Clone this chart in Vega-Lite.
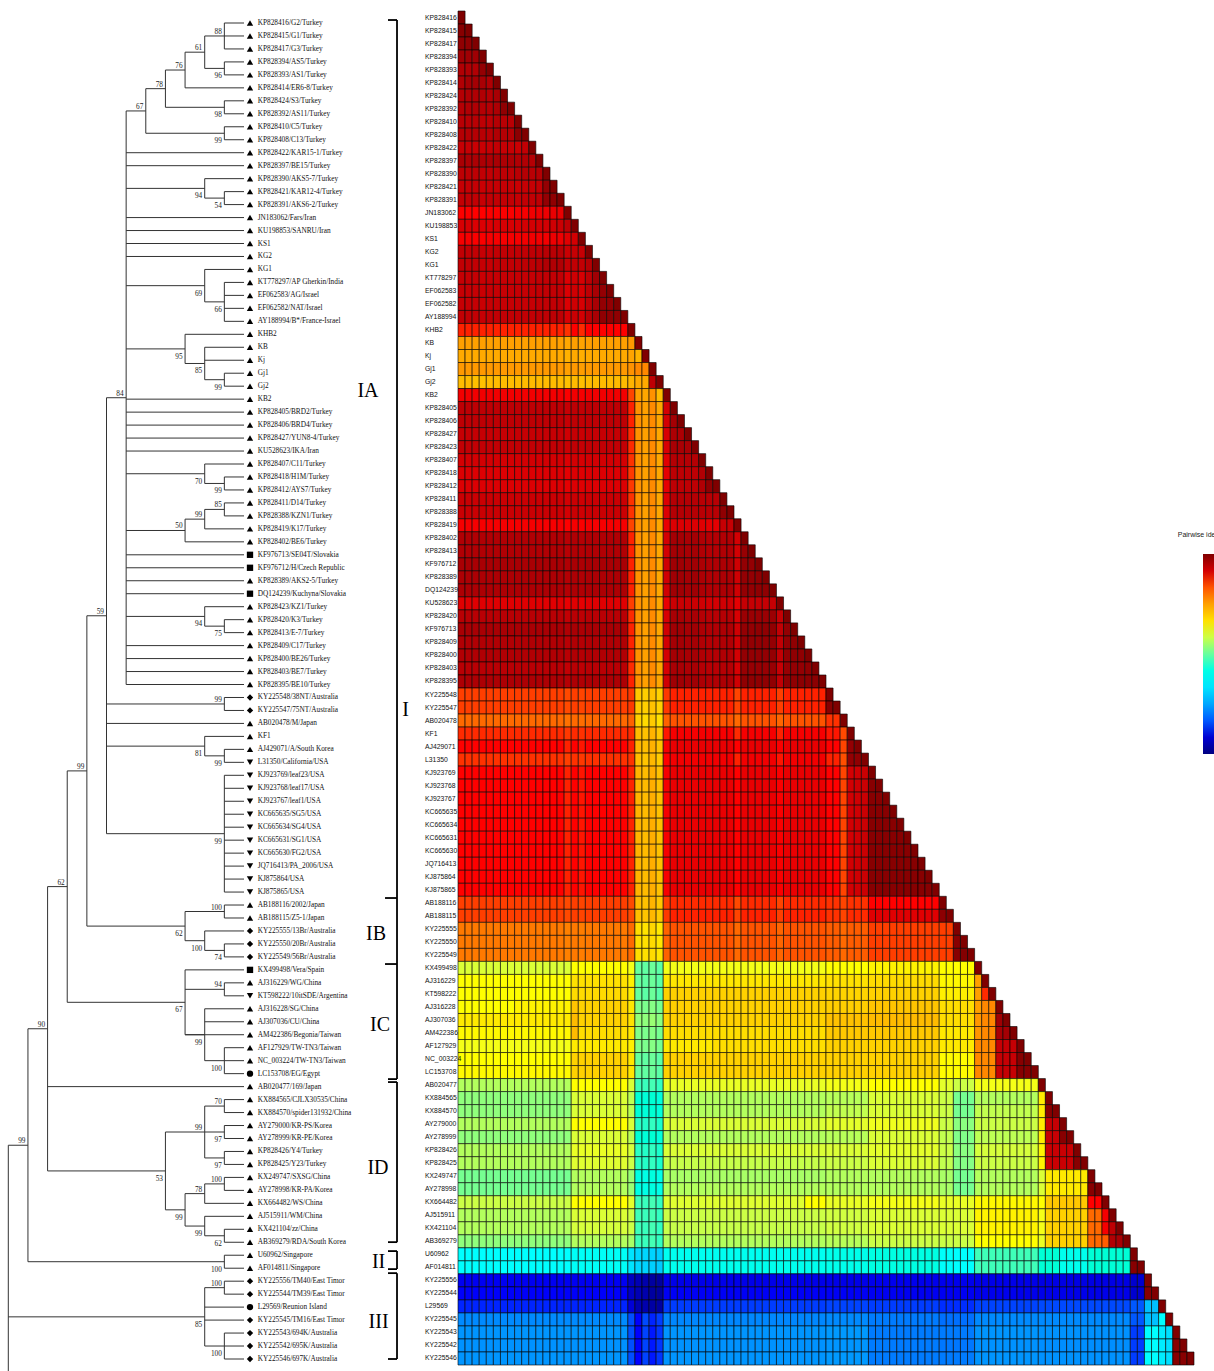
{
"$schema":"https://vega.github.io/schema/vega-lite/v6.json",
"width":1214,"height":1371,"padding":0,"autosize":{"type":"none"},
"background":"white",
"config":{"view":{"stroke":null}},
"datasets":{
"hm":[
{"i":1,"r":"KP828416","v":[1000]},
{"i":2,"r":"KP828415","v":[998,1000]},
{"i":3,"r":"KP828417","v":[996,996,1000]},
{"i":4,"r":"KP828394","v":[992,992,992,1000]},
{"i":5,"r":"KP828393","v":[988,988,988,995,1000]},
{"i":6,"r":"KP828414","v":[988,991,991,990,988,1000]},
{"i":7,"r":"KP828424","v":[987,988,988,988,987,990,1000]},
{"i":8,"r":"KP828392","v":[987,988,988,987,987,989,996,1000]},
{"i":9,"r":"KP828410","v":[986,986,986,985,985,987,986,986,1000]},
{"i":10,"r":"KP828408","v":[987,987,987,986,986,988,987,987,997,1000]},
{"i":11,"r":"KP828422","v":[983,983,982,982,983,984,983,983,982,984,1000]},
{"i":12,"r":"KP828397","v":[990,989,989,989,989,990,989,989,988,988,987,1000]},
{"i":13,"r":"KP828390","v":[985,985,985,984,984,985,985,985,986,987,986,987,1000]},
{"i":14,"r":"KP828421","v":[983,983,983,982,983,983,983,983,982,983,983,984,995,1000]},
{"i":15,"r":"KP828391","v":[984,984,984,983,984,984,984,984,983,984,984,985,995,996,1000]},
{"i":16,"r":"JN183062","v":[971,971,970,970,971,971,971,971,972,972,973,974,974,975,975,1000]},
{"i":17,"r":"KU198853","v":[979,979,978,978,978,979,979,979,979,980,980,980,980,981,982,985,1000]},
{"i":18,"r":"KS1","v":[972,972,971,971,972,972,972,972,972,973,973,973,973,974,974,977,980,1000]},
{"i":19,"r":"KG2","v":[984,984,984,983,983,984,984,984,984,984,985,985,986,986,986,982,983,983,1000]},
{"i":20,"r":"KG1","v":[984,984,984,983,983,984,984,984,984,985,985,986,988,988,988,983,984,984,987,1000]},
{"i":21,"r":"KT778297","v":[983,983,983,982,983,983,983,983,983,983,983,984,984,984,984,978,981,979,985,992,1000]},
{"i":22,"r":"EF062583","v":[983,983,983,982,983,983,983,983,983,983,983,984,984,984,984,978,981,979,985,990,995,1000]},
{"i":23,"r":"EF062582","v":[983,983,983,982,983,983,983,983,983,983,983,984,984,984,984,978,981,979,985,990,995,995,1000]},
{"i":24,"r":"AY188994","v":[984,984,984,983,984,984,984,984,984,984,984,985,985,985,985,979,982,980,986,990,996,996,996,1000]},
{"i":25,"r":"KHB2","v":[968,968,968,968,968,968,968,968,968,968,968,968,968,968,968,966,970,967,970,970,970,970,970,970,1000]},
{"i":26,"r":"KB","v":[940,940,940,940,940,940,940,940,940,940,940,940,940,940,940,938,940,939,940,940,940,940,940,940,942,1000]},
{"i":27,"r":"Kj","v":[937,937,937,937,937,937,937,937,937,937,937,937,937,937,937,935,937,936,937,937,937,937,937,937,939,934,1000]},
{"i":28,"r":"Gj1","v":[942,942,942,942,942,942,942,942,942,942,942,942,942,942,942,940,942,941,942,942,942,942,942,942,944,947,947,1000]},
{"i":29,"r":"Gj2","v":[932,932,930,930,932,932,932,932,932,932,932,932,932,932,932,930,932,931,932,932,932,932,932,932,934,937,937,985,1000]},
{"i":30,"r":"KB2","v":[973,973,973,973,973,973,973,973,973,973,973,973,973,973,973,971,973,972,973,973,973,973,973,973,963,940,938,944,932,1000]},
{"i":31,"r":"KP828405","v":[985,985,985,985,985,985,985,985,985,985,985,985,985,985,985,983,985,984,985,985,985,985,985,985,968,944,940,946,938,980,1000]},
{"i":32,"r":"KP828406","v":[985,985,985,985,985,985,985,985,985,985,985,985,985,985,985,983,985,984,985,985,985,985,985,985,968,944,940,946,938,980,991,1000]},
{"i":33,"r":"KP828427","v":[983,983,983,983,983,983,983,983,983,983,983,983,983,983,983,981,983,982,983,983,983,983,983,983,967,944,940,946,938,979,989,989,1000]},
{"i":34,"r":"KP828423","v":[984,984,984,984,984,984,984,984,984,984,984,984,984,984,984,982,984,983,984,984,984,984,984,984,967,944,940,946,938,979,990,990,990,1000]},
{"i":35,"r":"KP828407","v":[980,980,980,980,980,980,980,980,980,980,980,980,980,980,980,978,980,979,980,980,980,980,980,980,966,944,940,946,938,977,987,987,987,987,1000]},
{"i":36,"r":"KP828418","v":[978,978,978,978,978,978,978,978,978,978,978,978,978,978,978,976,978,977,978,978,978,978,978,978,965,944,940,946,938,976,985,985,985,985,988,1000]},
{"i":37,"r":"KP828412","v":[978,978,978,978,978,978,978,978,978,978,978,978,978,978,978,976,978,977,978,978,978,978,978,978,965,944,940,946,938,976,985,985,985,985,988,996,1000]},
{"i":38,"r":"KP828411","v":[982,982,982,982,982,982,982,982,982,982,982,982,982,982,982,980,982,981,982,982,982,982,982,982,966,944,940,946,938,978,987,987,987,987,986,986,986,1000]},
{"i":39,"r":"KP828388","v":[982,982,982,982,982,982,982,982,982,982,982,982,982,982,982,980,982,981,982,982,982,982,982,982,966,944,940,946,938,978,987,987,987,987,986,986,986,996,1000]},
{"i":40,"r":"KP828419","v":[972,972,972,972,972,972,972,972,972,972,972,972,972,972,972,970,972,971,972,972,972,972,972,972,963,944,940,946,938,975,978,978,978,978,977,976,976,983,983,1000]},
{"i":41,"r":"KP828402","v":[988,988,988,988,988,988,988,988,988,988,988,988,988,988,988,986,988,987,988,988,988,988,988,988,968,944,940,946,938,980,991,991,990,991,988,987,987,988,988,980,1000]},
{"i":42,"r":"KP828413","v":[988,988,988,988,988,988,988,988,988,988,988,988,988,988,988,986,988,987,988,988,988,988,988,988,968,944,940,946,938,980,991,991,990,991,988,987,987,988,988,980,994,1000]},
{"i":43,"r":"KF976712","v":[990,990,990,990,990,990,990,990,990,990,990,990,990,990,990,988,990,989,990,990,990,990,990,990,968,944,940,946,938,981,992,992,991,992,989,988,988,989,989,981,995,995,1000]},
{"i":44,"r":"KP828389","v":[989,989,989,989,989,989,989,989,989,989,989,989,989,989,989,987,989,988,989,989,989,989,989,989,968,944,940,946,938,981,992,992,991,992,989,988,988,989,989,981,995,995,996,1000]},
{"i":45,"r":"DQ124239","v":[989,989,989,989,989,989,989,989,989,989,989,989,989,989,989,987,989,988,989,989,989,989,989,989,968,944,940,946,938,981,992,992,991,992,989,988,988,989,989,981,995,995,996,996,1000]},
{"i":46,"r":"KU528623","v":[977,977,977,977,977,977,977,977,977,977,977,977,977,977,977,975,977,976,977,977,977,977,977,977,964,944,940,946,938,975,982,982,982,982,981,980,980,981,981,976,983,983,983,983,983,1000]},
{"i":47,"r":"KP828420","v":[986,986,986,986,986,986,986,986,986,986,986,986,986,986,986,984,986,985,986,986,986,986,986,986,967,944,940,946,938,979,990,990,989,990,987,986,986,987,987,979,993,993,993,993,993,983,1000]},
{"i":48,"r":"KF976713","v":[990,990,990,990,990,990,990,990,990,990,990,990,990,990,990,988,990,989,990,990,990,990,990,990,968,944,940,946,938,981,992,992,991,992,989,988,988,989,989,981,995,995,996,996,996,984,995,1000]},
{"i":49,"r":"KP828409","v":[988,988,988,988,988,988,988,988,988,988,988,988,988,988,988,986,988,987,988,988,988,988,988,988,968,944,940,946,938,980,991,991,990,991,988,987,987,988,988,980,995,995,995,995,995,984,995,996,1000]},
{"i":50,"r":"KP828400","v":[988,988,988,988,988,988,988,988,988,988,988,988,988,988,988,986,988,987,988,988,988,988,988,988,968,944,940,946,938,980,991,991,990,991,988,987,987,988,988,980,995,995,995,995,995,984,995,996,996,1000]},
{"i":51,"r":"KP828403","v":[986,986,986,986,986,986,986,986,986,986,986,986,986,986,986,984,986,985,986,986,986,986,986,986,967,944,940,946,938,979,990,990,989,990,987,986,986,987,987,979,994,994,994,994,994,983,994,995,995,996,1000]},
{"i":52,"r":"KP828395","v":[989,989,989,989,989,989,989,989,989,989,989,989,989,989,989,987,989,988,989,989,989,989,989,989,968,944,940,946,938,981,992,992,991,992,989,988,988,989,989,981,996,996,996,996,996,984,996,996,997,997,997,1000]},
{"i":53,"r":"KY225548","v":[964,964,964,964,964,964,964,964,964,964,964,964,964,964,964,962,964,963,964,964,964,964,964,964,965,928,926,930,925,965,968,968,968,968,968,968,968,968,968,963,968,968,968,968,968,964,968,968,968,968,968,968,1000]},
{"i":54,"r":"KY225547","v":[964,964,964,964,964,964,964,964,964,964,964,964,964,964,964,962,964,963,964,964,964,964,964,964,965,928,926,930,925,965,968,968,968,968,968,968,968,968,968,963,968,968,968,968,968,964,968,968,968,968,968,968,998,1000]},
{"i":55,"r":"AB020478","v":[955,955,955,955,955,955,955,955,955,955,955,955,955,955,955,953,955,954,955,955,955,955,955,955,957,925,922,927,920,957,960,960,960,960,960,960,960,960,960,955,960,960,960,960,960,956,960,960,960,960,960,960,966,966,1000]},
{"i":56,"r":"KF1","v":[967,967,967,967,967,967,967,967,967,967,967,967,967,967,967,965,967,966,967,967,967,967,967,967,967,932,930,934,928,969,972,972,972,972,972,972,972,972,972,967,972,972,972,972,972,968,972,972,972,972,972,972,969,969,962,1000]},
{"i":57,"r":"AJ429071","v":[970,970,970,970,970,970,970,970,970,970,970,970,970,970,970,968,970,969,970,970,970,970,970,970,968,933,931,935,929,972,975,975,975,975,975,975,975,975,975,970,975,975,975,975,975,971,975,975,975,975,975,975,970,970,963,995,1000]},
{"i":58,"r":"L31350","v":[966,966,966,966,966,966,966,966,966,966,966,966,966,966,966,964,966,965,966,966,966,966,966,966,966,931,929,933,927,970,973,973,973,973,973,973,973,973,973,968,973,973,973,973,973,969,973,973,973,973,973,973,968,968,961,995,996,1000]},
{"i":59,"r":"KJ923769","v":[970,970,970,970,970,970,970,970,970,970,970,970,970,970,970,968,970,969,970,970,970,970,970,970,968,934,932,936,930,972,975,975,975,975,975,975,975,975,975,970,975,975,975,975,975,971,975,975,975,975,975,975,970,970,963,980,981,982,1000]},
{"i":60,"r":"KJ923768","v":[970,970,970,970,970,970,970,970,970,970,970,970,970,970,970,968,970,969,970,970,970,970,970,970,968,934,932,936,930,972,975,975,975,975,975,975,975,975,975,970,975,975,975,975,975,971,975,975,975,975,975,975,970,970,963,980,981,982,998,1000]},
{"i":61,"r":"KJ923767","v":[970,970,970,970,970,970,970,970,970,970,970,970,970,970,970,968,970,969,970,970,970,970,970,970,968,934,932,936,930,972,975,975,975,975,975,975,975,975,975,970,975,975,975,975,975,971,975,975,975,975,975,975,970,970,963,980,981,982,998,998,1000]},
{"i":62,"r":"KC665635","v":[970,970,970,970,970,970,970,970,970,970,970,970,970,970,970,968,970,969,970,970,970,970,970,970,968,934,932,936,930,972,975,975,975,975,975,975,975,975,975,970,975,975,975,975,975,971,975,975,975,975,975,975,970,970,963,980,981,982,998,998,998,1000]},
{"i":63,"r":"KC665634","v":[970,970,970,970,970,970,970,970,970,970,970,970,970,970,970,968,970,969,970,970,970,970,970,970,968,934,932,936,930,972,975,975,975,975,975,975,975,975,975,970,975,975,975,975,975,971,975,975,975,975,975,975,970,970,963,980,981,982,998,998,998,998,1000]},
{"i":64,"r":"KC665631","v":[970,970,970,970,970,970,970,970,970,970,970,970,970,970,970,968,970,969,970,970,970,970,970,970,968,934,932,936,930,972,975,975,975,975,975,975,975,975,975,970,975,975,975,975,975,971,975,975,975,975,975,975,970,970,963,980,981,982,998,998,998,998,998,1000]},
{"i":65,"r":"KC665630","v":[970,970,970,970,970,970,970,970,970,970,970,970,970,970,970,968,970,969,970,970,970,970,970,970,968,934,932,936,930,972,975,975,975,975,975,975,975,975,975,970,975,975,975,975,975,971,975,975,975,975,975,975,970,970,963,980,981,982,998,998,998,998,998,998,1000]},
{"i":66,"r":"JQ716413","v":[970,970,970,970,970,970,970,970,970,970,970,970,970,970,970,968,970,969,970,970,970,970,970,970,968,934,932,936,930,972,975,975,975,975,975,975,975,975,975,970,975,975,975,975,975,971,975,975,975,975,975,975,970,970,963,980,981,982,998,998,998,998,998,998,998,1000]},
{"i":67,"r":"KJ875864","v":[970,970,970,970,970,970,970,970,970,970,970,970,970,970,970,968,970,969,970,970,970,970,970,970,968,934,932,936,930,972,975,975,975,975,975,975,975,975,975,970,975,975,975,975,975,971,975,975,975,975,975,975,970,970,963,980,981,982,998,998,998,998,998,998,998,998,1000]},
{"i":68,"r":"KJ875865","v":[970,970,970,970,970,970,970,970,970,970,970,970,970,970,970,968,970,969,970,970,970,970,970,970,968,934,932,936,930,972,975,975,975,975,975,975,975,975,975,970,975,975,975,975,975,971,975,975,975,975,975,975,970,970,963,980,981,982,998,998,998,998,998,998,998,998,998,1000]},
{"i":69,"r":"AB188116","v":[964,964,964,964,964,964,964,964,964,964,964,964,964,964,964,962,964,963,964,964,964,964,964,964,962,932,930,934,928,964,967,967,967,967,967,967,967,967,967,962,967,967,967,967,967,963,967,967,967,967,967,967,966,966,963,966,966,966,970,970,970,970,970,970,970,970,970,970,1000]},
{"i":70,"r":"AB188115","v":[964,964,964,964,964,964,964,964,964,964,964,964,964,964,964,962,964,963,964,964,964,964,964,964,962,931,929,933,927,965,968,968,968,968,968,968,968,968,968,963,968,968,968,968,968,964,968,968,968,968,968,968,966,966,963,967,967,967,977,977,977,977,977,977,977,977,977,977,997,1000]},
{"i":71,"r":"KY225555","v":[951,951,951,951,951,951,951,951,951,951,951,951,951,951,951,949,951,950,951,951,951,951,951,951,955,921,919,923,917,957,960,960,960,960,960,960,960,960,960,955,960,960,960,960,960,956,960,960,960,960,960,960,958,958,955,958,958,958,964,964,964,964,964,964,964,964,964,964,964,964,1000]},
{"i":72,"r":"KY225550","v":[951,951,951,951,951,951,951,951,951,951,951,951,951,951,951,949,951,950,951,951,951,951,951,951,955,921,920,922,918,957,960,960,960,960,960,960,960,960,960,955,960,960,960,960,960,956,960,960,960,960,960,960,958,958,955,958,958,958,964,964,964,964,964,964,964,964,964,964,964,964,998,1000]},
{"i":73,"r":"KY225549","v":[951,951,951,951,951,951,951,951,951,951,951,951,951,951,951,949,951,950,951,951,951,951,951,951,955,921,920,922,918,957,960,960,960,960,960,960,960,960,960,955,960,960,960,960,960,956,960,960,960,960,960,960,958,958,955,958,958,958,964,964,964,964,964,964,964,964,964,964,964,964,998,999,1000]},
{"i":74,"r":"KX499498","v":[903,903,903,903,903,903,903,903,903,903,903,903,903,903,903,903,910,910,910,910,910,910,910,910,908,880,879,881,878,908,908,908,908,908,908,908,908,908,908,908,908,908,908,908,908,908,908,908,908,908,908,908,910,910,910,910,910,910,914,914,914,914,914,914,914,914,914,914,910,910,910,910,910,1000]},
{"i":75,"r":"AJ316229","v":[910,910,910,910,910,910,910,910,910,910,910,910,910,910,910,910,920,920,920,920,920,920,920,920,915,880,879,881,878,918,918,918,918,918,918,918,918,918,918,918,918,918,918,918,918,918,918,918,918,918,918,918,920,920,920,920,920,920,922,922,922,922,922,922,922,922,922,922,912,912,912,912,912,940,1000]},
{"i":76,"r":"KT598222","v":[910,910,910,910,910,910,910,910,910,910,910,910,910,910,910,910,922,922,922,922,922,922,922,922,916,880,878,881,877,925,925,925,925,925,925,925,925,925,925,925,925,925,925,925,925,925,925,925,925,925,925,925,924,924,924,924,924,924,925,925,925,925,925,925,925,925,925,925,915,915,915,915,915,940,967,1000]},
{"i":77,"r":"AJ316228","v":[910,910,910,910,910,910,910,910,914,914,914,914,914,914,914,914,929,925,925,925,925,925,925,925,918,885,884,886,883,925,925,925,925,925,925,925,925,925,925,925,925,925,925,925,925,925,925,925,925,925,925,925,926,926,926,926,926,926,929,929,929,929,929,929,929,929,929,929,921,921,921,921,921,940,947,947,1000]},
{"i":78,"r":"AJ307036","v":[917,917,917,917,917,917,917,917,917,917,917,917,917,917,917,917,932,925,925,925,925,925,925,925,920,889,888,890,887,925,925,925,925,925,925,925,925,925,925,925,925,925,925,925,925,925,925,925,925,925,925,925,930,930,930,930,930,930,932,932,932,932,932,932,932,932,932,932,921,921,921,921,921,943,947,947,992,1000]},
{"i":79,"r":"AM422386","v":[912,912,912,912,912,912,912,912,912,912,912,912,912,912,912,912,932,921,921,921,921,921,921,921,918,885,884,886,883,921,921,921,921,921,921,921,921,921,921,921,921,921,921,921,921,921,921,921,921,921,921,921,928,928,928,928,928,928,928,928,928,928,928,928,928,928,928,928,917,917,917,917,917,943,947,947,990,991,1000]},
{"i":80,"r":"AF127929","v":[908,908,908,908,908,908,908,908,908,908,908,908,908,908,908,908,917,917,917,917,917,917,917,917,915,885,884,886,883,917,917,917,917,917,917,917,921,921,921,921,921,921,921,921,921,921,921,921,921,921,921,921,925,925,925,925,925,925,925,925,925,925,925,925,925,925,925,925,917,917,917,917,917,947,947,947,983,983,983,1000]},
{"i":81,"r":"NC_003224","v":[910,910,910,910,910,910,910,910,910,910,910,910,910,910,910,910,925,925,925,925,925,925,925,925,918,880,879,881,878,925,925,925,925,925,925,925,925,925,925,925,925,925,925,925,925,925,925,925,925,925,925,925,925,925,925,925,925,925,925,925,925,925,925,925,925,925,925,925,911,911,911,911,911,947,947,947,983,983,983,998,1000]},
{"i":82,"r":"LC153708","v":[912,912,912,912,912,912,912,912,912,912,912,912,912,912,912,912,925,925,925,925,925,925,925,925,918,880,879,881,878,925,925,925,925,925,925,925,925,925,925,925,925,925,925,925,925,925,925,925,925,925,925,925,925,925,925,925,925,925,925,925,925,925,925,925,925,925,925,925,911,911,911,911,911,947,947,947,983,983,983,998,998,1000]},
{"i":83,"r":"AB020477","v":[895,895,895,895,895,895,895,895,895,895,895,895,895,895,895,895,910,910,910,910,910,910,910,910,903,873,872,874,871,906,906,906,906,906,906,906,906,906,906,906,906,906,906,906,906,906,906,906,906,906,906,906,908,908,908,908,908,908,910,910,910,910,910,910,910,910,910,910,905,905,900,900,900,908,908,908,908,908,908,908,908,908,1000]},
{"i":84,"r":"KX884565","v":[888,888,888,888,888,888,888,888,888,888,888,888,888,888,888,888,903,903,903,903,903,903,903,903,897,865,864,866,863,895,895,895,895,895,895,895,895,895,895,895,895,895,895,895,895,895,895,895,895,895,895,895,896,896,896,896,896,896,903,903,903,903,903,903,903,903,903,903,900,900,883,883,883,895,895,895,895,895,895,895,895,895,916,1000]},
{"i":85,"r":"KX884570","v":[888,888,888,888,888,888,888,888,888,888,888,888,888,888,888,888,903,903,903,903,903,903,903,903,897,865,864,866,863,895,895,895,895,895,895,895,895,895,895,895,895,895,895,895,895,895,895,895,895,895,895,895,898,898,898,898,898,898,903,903,903,903,903,903,903,903,903,903,900,900,883,883,883,898,898,898,898,898,898,898,898,898,916,998,1000]},
{"i":86,"r":"AY279000","v":[895,895,895,895,895,895,895,895,895,895,895,895,895,895,895,895,910,910,910,910,910,910,910,910,903,870,869,871,868,903,903,903,903,903,903,903,903,903,903,903,903,903,903,903,903,903,903,903,903,903,903,903,905,905,905,905,905,905,907,907,907,907,907,907,907,907,907,907,900,900,887,887,887,900,900,900,900,900,900,900,900,900,916,983,983,1000]},
{"i":87,"r":"AY278999","v":[888,888,888,888,888,888,888,888,888,888,888,888,888,888,888,888,903,903,903,903,903,903,903,903,897,865,864,866,863,895,895,895,895,895,895,895,895,895,895,895,895,895,895,895,895,895,895,895,895,895,895,895,896,896,896,896,896,896,903,903,903,903,903,903,903,903,903,903,898,898,885,885,885,897,897,897,897,897,897,897,897,897,916,983,983,998,1000]},
{"i":88,"r":"KP828426","v":[895,895,895,895,895,895,895,895,895,895,895,895,895,895,895,895,906,906,906,906,906,906,906,906,902,870,869,871,868,903,903,903,903,903,903,903,903,903,903,903,903,903,903,903,903,903,903,903,903,903,903,903,903,903,903,903,903,903,905,905,905,905,905,905,905,905,905,905,900,900,887,887,887,902,902,902,902,902,902,902,902,902,914,982,982,982,982,1000]},
{"i":89,"r":"KP828425","v":[895,895,895,895,895,895,895,895,895,895,895,895,895,895,895,895,904,904,904,904,904,904,904,904,900,870,869,871,868,899,899,899,899,899,899,899,899,899,899,899,899,899,899,899,899,899,899,899,899,899,899,899,900,900,900,900,900,900,903,903,903,903,903,903,903,903,903,903,898,898,886,886,886,900,900,900,900,900,900,900,900,900,914,982,982,982,982,998,1000]},
{"i":90,"r":"KX249747","v":[883,883,883,883,883,883,883,883,883,883,883,883,883,883,883,883,895,895,895,895,895,895,895,895,890,861,860,862,859,893,893,893,893,893,893,893,893,893,893,893,893,893,893,893,893,893,893,893,893,893,893,893,895,895,895,895,895,895,895,895,895,895,895,895,895,895,895,895,893,893,883,883,883,895,895,895,895,895,895,895,895,895,903,917,917,917,917,917,917,1000]},
{"i":91,"r":"AY278998","v":[883,883,883,883,883,883,883,883,883,883,883,883,883,883,883,883,895,895,895,895,895,895,895,895,890,861,860,862,859,895,895,895,895,895,895,895,895,895,895,895,895,895,895,895,895,895,895,895,895,895,895,895,895,895,895,895,895,895,895,895,895,895,895,895,895,895,895,895,893,893,883,883,883,895,895,895,895,895,895,895,895,895,903,917,917,917,917,917,917,998,1000]},
{"i":92,"r":"KX664482","v":[900,900,900,900,900,900,900,900,900,900,900,900,900,900,900,900,910,910,910,910,910,910,910,910,905,873,872,874,871,904,904,904,904,904,904,904,904,904,904,904,904,904,904,904,904,904,904,904,904,910,910,910,906,906,906,906,906,906,908,908,908,908,908,908,908,908,908,908,906,906,906,906,906,912,912,912,912,912,912,912,912,912,910,928,928,928,928,928,928,970,970,1000]},
{"i":93,"r":"AJ515911","v":[895,895,895,895,895,895,895,895,895,895,895,895,895,895,895,895,903,903,903,903,903,903,903,903,900,873,872,874,871,900,900,900,900,900,900,900,900,900,900,900,900,900,900,900,900,900,900,900,900,900,900,900,901,901,901,901,901,901,903,903,903,903,903,903,903,903,903,903,903,903,903,903,903,914,914,914,914,914,914,914,914,914,908,925,925,925,925,925,925,955,955,972,1000]},
{"i":94,"r":"KX421104","v":[895,895,895,895,895,895,895,895,895,895,895,895,895,895,895,895,902,902,902,902,902,902,902,902,900,873,872,874,871,899,899,899,899,899,899,899,899,899,899,899,899,899,899,899,899,899,899,899,899,899,899,899,901,901,901,901,901,901,903,903,903,903,903,903,903,903,903,903,903,903,903,903,903,914,914,914,914,914,914,914,914,914,908,925,925,925,925,925,925,955,955,972,985,1000]},
{"i":95,"r":"AB369279","v":[888,888,888,888,888,888,888,888,888,888,888,888,888,888,888,888,895,895,895,895,895,895,895,895,893,873,872,874,871,895,895,895,895,895,895,895,895,895,895,895,895,895,895,895,895,895,895,895,895,895,895,895,896,896,896,896,896,896,900,900,900,900,900,900,900,900,900,900,900,900,900,900,900,910,910,910,910,910,910,910,910,910,906,925,925,925,925,925,925,955,955,958,988,990,1000]},
{"i":96,"r":"U60962","v":[850,850,850,850,850,850,850,850,850,850,850,850,850,850,850,850,853,853,853,853,853,853,853,853,840,836,835,834,832,856,856,856,856,856,856,856,856,856,856,856,856,856,856,856,856,856,856,856,856,856,856,856,858,858,858,858,858,858,861,861,861,861,861,861,861,861,861,861,852,852,850,850,850,873,873,873,873,873,873,873,873,873,865,865,865,857,857,857,857,865,865,865,865,865,865,1000]},
{"i":97,"r":"AF014811","v":[850,850,850,850,850,850,850,850,850,850,850,850,850,850,850,850,853,853,853,853,853,853,853,853,840,835,834,833,831,857,857,857,857,857,857,857,857,857,857,857,857,857,857,857,857,857,857,857,857,857,857,857,858,858,858,858,858,858,861,861,861,861,861,861,861,861,861,861,852,852,850,850,850,873,873,873,873,873,873,873,873,873,865,865,865,857,857,857,857,865,865,865,865,865,865,998,1000]},
{"i":98,"r":"KY225556","v":[787,787,787,787,787,787,787,787,787,787,787,787,787,787,787,787,787,787,787,787,787,787,787,787,776,773,771,768,767,785,785,785,785,785,785,785,785,785,785,785,785,785,785,785,785,785,785,785,785,785,785,785,785,785,785,785,785,785,786,786,786,786,786,786,786,786,786,786,786,786,786,786,786,785,785,785,785,785,785,785,785,785,784,784,784,784,784,784,784,784,784,784,784,784,784,779,779,1000]},
{"i":99,"r":"KY225544","v":[789,789,789,789,789,789,789,789,789,789,789,789,789,789,789,789,789,789,789,789,789,789,789,789,777,773,771,768,767,788,788,788,788,788,788,788,788,788,788,788,788,788,788,788,788,788,788,788,788,788,788,788,788,788,788,788,788,788,787,787,787,787,787,787,787,787,787,787,787,787,787,787,787,786,786,786,786,786,786,786,786,786,785,785,785,785,785,785,785,785,785,785,785,785,785,779,779,998,1000]},
{"i":100,"r":"L29569","v":[792,792,792,792,792,792,792,792,792,792,792,792,792,792,792,792,792,792,792,792,792,792,792,792,781,772,771,769,768,795,795,795,795,795,795,795,795,795,795,795,795,795,795,795,795,795,795,795,795,795,795,795,796,796,796,796,796,796,795,795,795,795,795,795,795,795,795,795,793,793,793,793,793,796,796,796,796,796,796,796,796,796,797,797,797,797,797,797,797,797,797,797,797,797,797,800,800,828,828,1000]},
{"i":101,"r":"KY225545","v":[812,812,812,812,812,812,812,812,812,812,812,812,812,812,812,812,812,812,812,812,812,812,812,812,798,790,797,792,795,811,811,811,811,811,811,811,811,811,811,811,811,811,811,811,811,811,811,811,811,811,811,811,812,812,812,812,812,812,808,808,808,808,808,808,808,808,808,808,805,805,805,805,805,812,812,812,812,812,812,812,812,812,812,812,812,812,812,812,812,812,812,812,812,812,812,800,800,828,828,850,1000]},
{"i":102,"r":"KY225543","v":[815,815,815,815,815,815,815,815,815,815,815,815,815,815,815,815,815,815,815,815,815,815,815,815,798,790,796,791,794,815,815,815,815,815,815,815,815,815,815,815,815,815,815,815,815,815,815,815,815,815,815,815,816,816,816,816,816,816,808,808,808,808,808,808,808,808,808,808,808,808,808,808,808,815,815,815,815,815,815,815,815,815,814,814,814,814,814,814,814,814,814,814,814,814,814,795,795,850,850,843,838,1000]},
{"i":103,"r":"KY225542","v":[814,814,814,814,814,814,814,814,814,814,814,814,814,814,814,814,814,814,814,814,814,814,814,814,798,790,796,791,794,814,814,814,814,814,814,814,814,814,814,814,814,814,814,814,814,814,814,814,814,814,814,814,815,815,815,815,815,815,808,808,808,808,808,808,808,808,808,808,807,807,807,807,807,814,814,814,814,814,814,814,814,814,813,813,813,813,813,813,813,813,813,813,813,813,813,795,795,850,850,843,838,998,1000]},
{"i":104,"r":"KY225546","v":[815,815,815,815,815,815,815,815,815,815,815,815,815,815,815,815,815,815,815,815,815,815,815,815,798,790,796,791,794,815,815,815,815,815,815,815,815,815,815,815,815,815,815,815,815,815,815,815,815,815,815,815,816,816,816,816,816,816,808,808,808,808,808,808,808,808,808,808,808,808,808,808,808,815,815,815,815,815,815,815,815,815,814,814,814,814,814,814,814,814,814,814,814,814,814,795,795,850,850,843,838,998,998,1000]}
],
"nodes":[
{"x":11,"p":10,"y":2,"y1":1,"y2":3,"bs":"88","s":"a"},
{"x":11,"p":10,"y":4.5,"y1":4,"y2":5,"bs":"96","s":"b"},
{"x":11,"p":8,"y":7.5,"y1":7,"y2":8,"bs":"98","s":"b"},
{"x":11,"p":7,"y":9.5,"y1":9,"y2":10,"bs":"99","s":"b"},
{"x":11,"p":10,"y":14.5,"y1":14,"y2":15,"bs":"54","s":"b"},
{"x":11,"p":10,"y":22.5,"y1":21,"y2":24,"bs":"66","s":"b"},
{"x":11,"p":10,"y":28.5,"y1":28,"y2":29,"bs":"99","s":"b"},
{"x":11,"p":10,"y":36.5,"y1":36,"y2":37,"bs":"99","s":"b"},
{"x":11,"p":10,"y":38.5,"y1":38,"y2":39,"bs":"85","s":"a"},
{"x":11,"p":10,"y":47.5,"y1":47,"y2":48,"bs":"75","s":"b"},
{"x":11,"p":5,"y":53.5,"y1":53,"y2":54,"bs":"99","s":"a"},
{"x":11,"p":10,"y":57.5,"y1":57,"y2":58,"bs":"99","s":"b"},
{"x":11,"p":5,"y":63.5,"y1":59,"y2":68,"bs":"99","s":"b"},
{"x":11,"p":9,"y":69.5,"y1":69,"y2":70,"bs":"100","s":"a"},
{"x":11,"p":10,"y":72.5,"y1":72,"y2":73,"bs":"74","s":"b"},
{"x":11,"p":9,"y":75.5,"y1":75,"y2":76,"bs":"94","s":"a"},
{"x":11,"p":10,"y":81,"y1":80,"y2":82,"bs":"100","s":"b"},
{"x":11,"p":10,"y":84.5,"y1":84,"y2":85,"bs":"70","s":"a"},
{"x":11,"p":10,"y":86.5,"y1":86,"y2":87,"bs":"97","s":"b"},
{"x":11,"p":10,"y":88.5,"y1":88,"y2":89,"bs":"97","s":"b"},
{"x":11,"p":10,"y":90.5,"y1":90,"y2":91,"bs":"100","s":"a"},
{"x":11,"p":10,"y":94.5,"y1":94,"y2":95,"bs":"62","s":"b"},
{"x":11,"p":1,"y":96.5,"y1":96,"y2":97,"bs":"100","s":"b"},
{"x":11,"p":10,"y":98.5,"y1":98,"y2":99,"bs":"100","s":"a"},
{"x":11,"p":10,"y":103,"y1":102,"y2":104,"bs":"100","s":"b"},
{"x":10,"p":9,"y":3.25,"y1":2,"y2":4.5,"bs":"61","s":"a"},
{"x":10,"p":6,"y":13.75,"y1":13,"y2":14.5,"bs":"94","s":"b"},
{"x":10,"p":6,"y":21.25,"y1":20,"y2":22.5,"bs":"69","s":"b"},
{"x":10,"p":9,"y":27.25,"y1":26,"y2":28.5,"bs":"85","s":"b"},
{"x":10,"p":6,"y":35.75,"y1":35,"y2":36.5,"bs":"70","s":"b"},
{"x":10,"p":9,"y":39.25,"y1":38.5,"y2":40,"bs":"99","s":"a"},
{"x":10,"p":6,"y":46.75,"y1":46,"y2":47.5,"bs":"94","s":"b"},
{"x":10,"p":5,"y":56.75,"y1":56,"y2":57.5,"bs":"81","s":"b"},
{"x":10,"p":9,"y":71.75,"y1":71,"y2":72.5,"bs":"100","s":"b"},
{"x":10,"p":9,"y":79,"y1":77,"y2":81,"bs":"99","s":"b"},
{"x":10,"p":8,"y":86.5,"y1":84.5,"y2":88.5,"bs":"99","s":"a"},
{"x":10,"p":9,"y":91.25,"y1":90.5,"y2":92,"bs":"78","s":"a"},
{"x":10,"p":9,"y":93.75,"y1":93,"y2":94.5,"bs":"99","s":"b"},
{"x":10,"p":0,"y":100.75,"y1":98.5,"y2":103,"bs":"85","s":"b"},
{"x":9,"p":8,"y":4.625,"y1":3.25,"y2":6,"bs":"76","s":"a"},
{"x":9,"p":6,"y":26.125,"y1":25,"y2":27.25,"bs":"95","s":"b"},
{"x":9,"p":6,"y":40.125,"y1":39.25,"y2":41,"bs":"50","s":"a"},
{"x":9,"p":4,"y":70.625,"y1":69.5,"y2":71.75,"bs":"62","s":"b"},
{"x":9,"p":3,"y":76.5,"y1":74,"y2":79,"bs":"67","s":"b"},
{"x":9,"p":8,"y":92.5,"y1":91.25,"y2":93.75,"bs":"99","s":"b"},
{"x":8,"p":7,"y":6.0625,"y1":4.625,"y2":7.5,"bs":"78","s":"a"},
{"x":8,"p":2,"y":89.5,"y1":86.5,"y2":92.5,"bs":"53","s":"b"},
{"x":7,"p":6,"y":7.78,"y1":6.0625,"y2":9.5,"bs":"67","s":"a"},
{"x":6,"p":5,"y":29.89,"y1":7.78,"y2":52,"bs":"84","s":"a"},
{"x":5,"p":4,"y":46.7,"y1":29.89,"y2":63.5,"bs":"59","s":"a"},
{"x":4,"p":3,"y":58.66,"y1":46.7,"y2":70.625,"bs":"99","s":"a"},
{"x":3,"p":2,"y":67.58,"y1":58.66,"y2":76.5,"bs":"62","s":"a"},
{"x":2,"p":1,"y":78.54,"y1":67.58,"y2":89.5,"bs":"90","s":"a"},
{"x":1,"p":0,"y":87.52,"y1":78.54,"y2":96.5,"bs":"99","s":"a"},
{"x":0,"p":0,"y":87.52,"y1":87.52,"y2":105,"bs":"","s":"n"},
{"x":12,"p":0,"y":105,"y1":105,"y2":105,"bs":"","s":"n"}
],
"leaves":[
{"y":1,"p":11,"n":"KP828416/G2/Turkey","m":"t"},
{"y":2,"p":11,"n":"KP828415/G1/Turkey","m":"t"},
{"y":3,"p":11,"n":"KP828417/G3/Turkey","m":"t"},
{"y":4,"p":11,"n":"KP828394/AS5/Turkey","m":"t"},
{"y":5,"p":11,"n":"KP828393/AS1/Turkey","m":"t"},
{"y":6,"p":9,"n":"KP828414/ER6-8/Turkey","m":"t"},
{"y":7,"p":11,"n":"KP828424/S3/Turkey","m":"t"},
{"y":8,"p":11,"n":"KP828392/AS11/Turkey","m":"t"},
{"y":9,"p":11,"n":"KP828410/C5/Turkey","m":"t"},
{"y":10,"p":11,"n":"KP828408/C13/Turkey","m":"t"},
{"y":11,"p":6,"n":"KP828422/KAR15-1/Turkey","m":"t"},
{"y":12,"p":6,"n":"KP828397/BE15/Turkey","m":"t"},
{"y":13,"p":10,"n":"KP828390/AKS5-7/Turkey","m":"t"},
{"y":14,"p":11,"n":"KP828421/KAR12-4/Turkey","m":"t"},
{"y":15,"p":11,"n":"KP828391/AKS6-2/Turkey","m":"t"},
{"y":16,"p":6,"n":"JN183062/Fars/Iran","m":"t"},
{"y":17,"p":6,"n":"KU198853/SANRU/Iran","m":"t"},
{"y":18,"p":6,"n":"KS1","m":"t"},
{"y":19,"p":6,"n":"KG2","m":"t"},
{"y":20,"p":10,"n":"KG1","m":"t"},
{"y":21,"p":11,"n":"KT778297/AP Gherkin/India","m":"t"},
{"y":22,"p":11,"n":"EF062583/AG/Israel","m":"t"},
{"y":23,"p":11,"n":"EF062582/NAT/Israel","m":"t"},
{"y":24,"p":11,"n":"AY188994/B*/France-Israel","m":"t"},
{"y":25,"p":9,"n":"KHB2","m":"t"},
{"y":26,"p":10,"n":"KB","m":"t"},
{"y":27,"p":10,"n":"Kj","m":"t"},
{"y":28,"p":11,"n":"Gj1","m":"t"},
{"y":29,"p":11,"n":"Gj2","m":"t"},
{"y":30,"p":6,"n":"KB2","m":"t"},
{"y":31,"p":6,"n":"KP828405/BRD2/Turkey","m":"t"},
{"y":32,"p":6,"n":"KP828406/BRD4/Turkey","m":"t"},
{"y":33,"p":6,"n":"KP828427/YUN8-4/Turkey","m":"t"},
{"y":34,"p":6,"n":"KU528623/IKA/Iran","m":"t"},
{"y":35,"p":10,"n":"KP828407/C11/Turkey","m":"t"},
{"y":36,"p":11,"n":"KP828418/H1M/Turkey","m":"t"},
{"y":37,"p":11,"n":"KP828412/AYS7/Turkey","m":"t"},
{"y":38,"p":11,"n":"KP828411/D14/Turkey","m":"t"},
{"y":39,"p":11,"n":"KP828388/KZN1/Turkey","m":"t"},
{"y":40,"p":10,"n":"KP828419/K17/Turkey","m":"t"},
{"y":41,"p":9,"n":"KP828402/BE6/Turkey","m":"t"},
{"y":42,"p":6,"n":"KF976713/SE04T/Slovakia","m":"s"},
{"y":43,"p":6,"n":"KF976712/H/Czech Republic","m":"s"},
{"y":44,"p":6,"n":"KP828389/AKS2-5/Turkey","m":"t"},
{"y":45,"p":6,"n":"DQ124239/Kuchyna/Slovakia","m":"s"},
{"y":46,"p":10,"n":"KP828423/KZ1/Turkey","m":"t"},
{"y":47,"p":11,"n":"KP828420/K3/Turkey","m":"t"},
{"y":48,"p":11,"n":"KP828413/E-7/Turkey","m":"t"},
{"y":49,"p":6,"n":"KP828409/C17/Turkey","m":"t"},
{"y":50,"p":6,"n":"KP828400/BE26/Turkey","m":"t"},
{"y":51,"p":6,"n":"KP828403/BE7/Turkey","m":"t"},
{"y":52,"p":6,"n":"KP828395/BE10/Turkey","m":"t"},
{"y":53,"p":11,"n":"KY225548/38NT/Australia","m":"d"},
{"y":54,"p":11,"n":"KY225547/75NT/Australia","m":"d"},
{"y":55,"p":5,"n":"AB020478/M/Japan","m":"t"},
{"y":56,"p":10,"n":"KF1","m":"t"},
{"y":57,"p":11,"n":"AJ429071/A/South Korea","m":"t"},
{"y":58,"p":11,"n":"L31350/California/USA","m":"v"},
{"y":59,"p":11,"n":"KJ923769/leaf23/USA","m":"v"},
{"y":60,"p":11,"n":"KJ923768/leaf17/USA","m":"v"},
{"y":61,"p":11,"n":"KJ923767/leaf1/USA","m":"v"},
{"y":62,"p":11,"n":"KC665635/SG5/USA","m":"v"},
{"y":63,"p":11,"n":"KC665634/SG4/USA","m":"v"},
{"y":64,"p":11,"n":"KC665631/SG1/USA","m":"v"},
{"y":65,"p":11,"n":"KC665630/FG2/USA","m":"v"},
{"y":66,"p":11,"n":"JQ716413/PA_2006/USA","m":"v"},
{"y":67,"p":11,"n":"KJ875864/USA","m":"v"},
{"y":68,"p":11,"n":"KJ875865/USA","m":"v"},
{"y":69,"p":11,"n":"AB188116/2002/Japan","m":"t"},
{"y":70,"p":11,"n":"AB188115/Z5-1/Japan","m":"t"},
{"y":71,"p":10,"n":"KY225555/13Br/Australia","m":"d"},
{"y":72,"p":11,"n":"KY225550/20Br/Australia","m":"d"},
{"y":73,"p":11,"n":"KY225549/56Br/Australia","m":"d"},
{"y":74,"p":9,"n":"KX499498/Vera/Spain","m":"s"},
{"y":75,"p":11,"n":"AJ316229/WG/China","m":"t"},
{"y":76,"p":11,"n":"KT598222/10itSDE/Argentina","m":"v"},
{"y":77,"p":10,"n":"AJ316228/SG/China","m":"t"},
{"y":78,"p":10,"n":"AJ307036/CU/China","m":"t"},
{"y":79,"p":9,"n":"AM422386/Begonia/Taiwan","m":"t"},
{"y":80,"p":11,"n":"AF127929/TW-TN3/Taiwan","m":"t"},
{"y":81,"p":11,"n":"NC_003224/TW-TN3/Taiwan","m":"t"},
{"y":82,"p":11,"n":"LC153708/EG/Egypt","m":"c"},
{"y":83,"p":2,"n":"AB020477/169/Japan","m":"t"},
{"y":84,"p":11,"n":"KX884565/CJLX30535/China","m":"t"},
{"y":85,"p":11,"n":"KX884570/spider131932/China","m":"t"},
{"y":86,"p":11,"n":"AY279000/KR-PS/Korea","m":"t"},
{"y":87,"p":11,"n":"AY278999/KR-PE/Korea","m":"t"},
{"y":88,"p":11,"n":"KP828426/Y4/Turkey","m":"t"},
{"y":89,"p":11,"n":"KP828425/Y23/Turkey","m":"t"},
{"y":90,"p":11,"n":"KX249747/SXSG/China","m":"t"},
{"y":91,"p":11,"n":"AY278998/KR-PA/Korea","m":"t"},
{"y":92,"p":10,"n":"KX664482/WS/China","m":"t"},
{"y":93,"p":10,"n":"AJ515911/WM/China","m":"t"},
{"y":94,"p":11,"n":"KX421104/zz/China","m":"t"},
{"y":95,"p":11,"n":"AB369279/RDA/South Korea","m":"t"},
{"y":96,"p":11,"n":"U60962/Singapore","m":"t"},
{"y":97,"p":11,"n":"AF014811/Singapore","m":"t"},
{"y":98,"p":11,"n":"KY225556/TM40/East Timor","m":"d"},
{"y":99,"p":11,"n":"KY225544/TM39/East Timor","m":"d"},
{"y":100,"p":10,"n":"L29569/Reunion Island","m":"c"},
{"y":101,"p":10,"n":"KY225545/TM16/East Timor","m":"d"},
{"y":102,"p":11,"n":"KY225543/694K/Australia","m":"d"},
{"y":103,"p":11,"n":"KY225542/695K/Australia","m":"d"},
{"y":104,"p":11,"n":"KY225546/697K/Australia","m":"d"}
],
"br":[
{"x":19.79,"x2":19.79,"y":0.77,"y2":82.42},
{"x":19.33,"x2":19.79,"y":0.77,"y2":0.77},
{"x":19.18,"x2":19.79,"y":68.46,"y2":68.46},
{"x":19.18,"x2":19.79,"y":73.55,"y2":73.55},
{"x":19.33,"x2":19.79,"y":82.42,"y2":82.42},
{"x":19.79,"x2":19.79,"y":82.65,"y2":94.99},
{"x":19.33,"x2":19.79,"y":82.65,"y2":82.65},
{"x":19.33,"x2":19.79,"y":94.99,"y2":94.99},
{"x":19.79,"x2":19.79,"y":95.68,"y2":97.07},
{"x":19.33,"x2":19.79,"y":95.68,"y2":95.68},
{"x":19.33,"x2":19.79,"y":97.07,"y2":97.07},
{"x":19.79,"x2":19.79,"y":97.38,"y2":104},
{"x":19.33,"x2":19.79,"y":97.38,"y2":97.38},
{"x":19.33,"x2":19.79,"y":104,"y2":104}
],
"cl":[
{"t":"IA","x":18.31,"y":29.84},
{"t":"I","x":20.22,"y":54.43},
{"t":"IB","x":18.72,"y":71.7},
{"t":"IC","x":18.93,"y":78.7},
{"t":"ID","x":18.82,"y":89.74},
{"t":"II","x":18.85,"y":97.0},
{"t":"III","x":18.85,"y":101.6}
]
},
"layer":[
{"layer":[
 {"data":{"name":"nodes"},"mark":{"type":"rule","color":"#333","strokeWidth":1},
  "encoding":{"x":{"field":"p","type":"quantitative","scale":{"domain":[0,12],"range":[8.3,244],"nice":false,"zero":false},"axis":null},"x2":{"field":"x"},
   "y":{"field":"y","type":"quantitative","scale":{"domain":[1,104],"range":[23,1359],"nice":false,"zero":false},"axis":null}}},
 {"data":{"name":"nodes"},"mark":{"type":"rule","color":"#333","strokeWidth":1},
  "encoding":{"x":{"field":"x","type":"quantitative","scale":{"domain":[0,12],"range":[8.3,244],"nice":false,"zero":false},"axis":null},
   "y":{"field":"y1","type":"quantitative","scale":{"domain":[1,104],"range":[23,1359],"nice":false,"zero":false},"axis":null},"y2":{"field":"y2"}}},
 {"data":{"name":"leaves"},"mark":{"type":"rule","color":"#333","strokeWidth":1},
  "encoding":{"x":{"field":"p","type":"quantitative","scale":{"domain":[0,12],"range":[8.3,244],"nice":false,"zero":false},"axis":null},"x2":{"datum":12},
   "y":{"field":"y","type":"quantitative","scale":{"domain":[1,104],"range":[23,1359],"nice":false,"zero":false},"axis":null}}},
 {"data":{"name":"nodes"},"transform":[{"filter":"datum.s=='a'"}],"mark":{"type":"text","align":"right","baseline":"alphabetic","dx":-2.5,"dy":-2,"fontSize":7.3,"font":"Liberation Serif","color":"#222"},
  "encoding":{"x":{"field":"x","type":"quantitative","scale":{"domain":[0,12],"range":[8.3,244],"nice":false,"zero":false},"axis":null},
   "y":{"field":"y","type":"quantitative","scale":{"domain":[1,104],"range":[23,1359],"nice":false,"zero":false},"axis":null},"text":{"field":"bs"}}},
 {"data":{"name":"nodes"},"transform":[{"filter":"datum.s=='b'"}],"mark":{"type":"text","align":"right","baseline":"alphabetic","dx":-2.5,"dy":10,"fontSize":7.3,"font":"Liberation Serif","color":"#222"},
  "encoding":{"x":{"field":"x","type":"quantitative","scale":{"domain":[0,12],"range":[8.3,244],"nice":false,"zero":false},"axis":null},
   "y":{"field":"y","type":"quantitative","scale":{"domain":[1,104],"range":[23,1359],"nice":false,"zero":false},"axis":null},"text":{"field":"bs"}}},
 {"data":{"name":"leaves"},"mark":{"type":"point","filled":true,"size":40,"color":"#000","opacity":1,"xOffset":6},
  "encoding":{"x":{"datum":12,"type":"quantitative","scale":{"domain":[0,12],"range":[8.3,244],"nice":false,"zero":false},"axis":null},
   "y":{"field":"y","type":"quantitative","scale":{"domain":[1,104],"range":[23,1359],"nice":false,"zero":false},"axis":null},
   "shape":{"field":"m","type":"nominal","scale":{"domain":["t","v","d","s","c"],"range":["triangle-up","triangle-down","diamond","square","circle"]},"legend":null}}},
 {"data":{"name":"leaves"},"mark":{"type":"text","align":"left","baseline":"middle","dx":13.7,"fontSize":7.3,"font":"Liberation Serif","color":"#111"},
  "encoding":{"x":{"datum":12,"type":"quantitative","scale":{"domain":[0,12],"range":[8.3,244],"nice":false,"zero":false},"axis":null},
   "y":{"field":"y","type":"quantitative","scale":{"domain":[1,104],"range":[23,1359],"nice":false,"zero":false},"axis":null},"text":{"field":"n"}}},
 {"data":{"name":"br"},"mark":{"type":"rule","color":"#000","strokeWidth":1.8},
  "encoding":{"x":{"field":"x","type":"quantitative","scale":{"domain":[0,12],"range":[8.3,244],"nice":false,"zero":false},"axis":null},"x2":{"field":"x2"},
   "y":{"field":"y","type":"quantitative","scale":{"domain":[1,104],"range":[23,1359],"nice":false,"zero":false},"axis":null},"y2":{"field":"y2"}}},
 {"data":{"name":"cl"},"mark":{"type":"text","align":"center","baseline":"alphabetic","fontSize":20,"font":"Liberation Serif","color":"#000"},
  "encoding":{"x":{"field":"x","type":"quantitative","scale":{"domain":[0,12],"range":[8.3,244],"nice":false,"zero":false},"axis":null},
   "y":{"field":"y","type":"quantitative","scale":{"domain":[1,104],"range":[23,1359],"nice":false,"zero":false},"axis":null},"text":{"field":"t"}}}
]},
{"data":{"name":"hm"},"layer":[
 {"transform":[{"flatten":["v"]},{"window":[{"op":"row_number","as":"c"}],"groupby":["i"]}],
  "mark":{"type":"rect","stroke":"#000","strokeWidth":0.6},
  "encoding":{
   "x":{"field":"c","type":"ordinal","scale":{"range":[458,1194],"paddingInner":0,"paddingOuter":0},"axis":null},
   "y":{"field":"i","type":"ordinal","scale":{"range":[11,1365],"paddingInner":0,"paddingOuter":0},"axis":null},
   "color":{"field":"v","type":"quantitative","scale":{"domain":[760,790,850,910,970,1000],"range":["#000080","#0000ff","#00ffff","#ffff00","#ff0000","#800000"]},
    "legend":{"title":"Pairwise identity","orient":"none","legendX":1178,"legendY":531,"direction":"vertical","gradientLength":200,"gradientThickness":16,"titleFontSize":7,"titleFontWeight":"normal","titleFont":"Liberation Sans","titleColor":"#222","titleAlign":"center","titleAnchor":"start","titlePadding":16,"labels":false}}}},
 {"mark":{"type":"text","align":"left","baseline":"middle","dx":-36.5,"fontSize":6.8,"font":"Liberation Sans","color":"#111"},
  "encoding":{"x":{"datum":1,"type":"ordinal"},"y":{"field":"i","type":"ordinal"},"text":{"field":"r"}}}
]}
],
"resolve":{"scale":{"x":"independent","y":"independent"}}
}
